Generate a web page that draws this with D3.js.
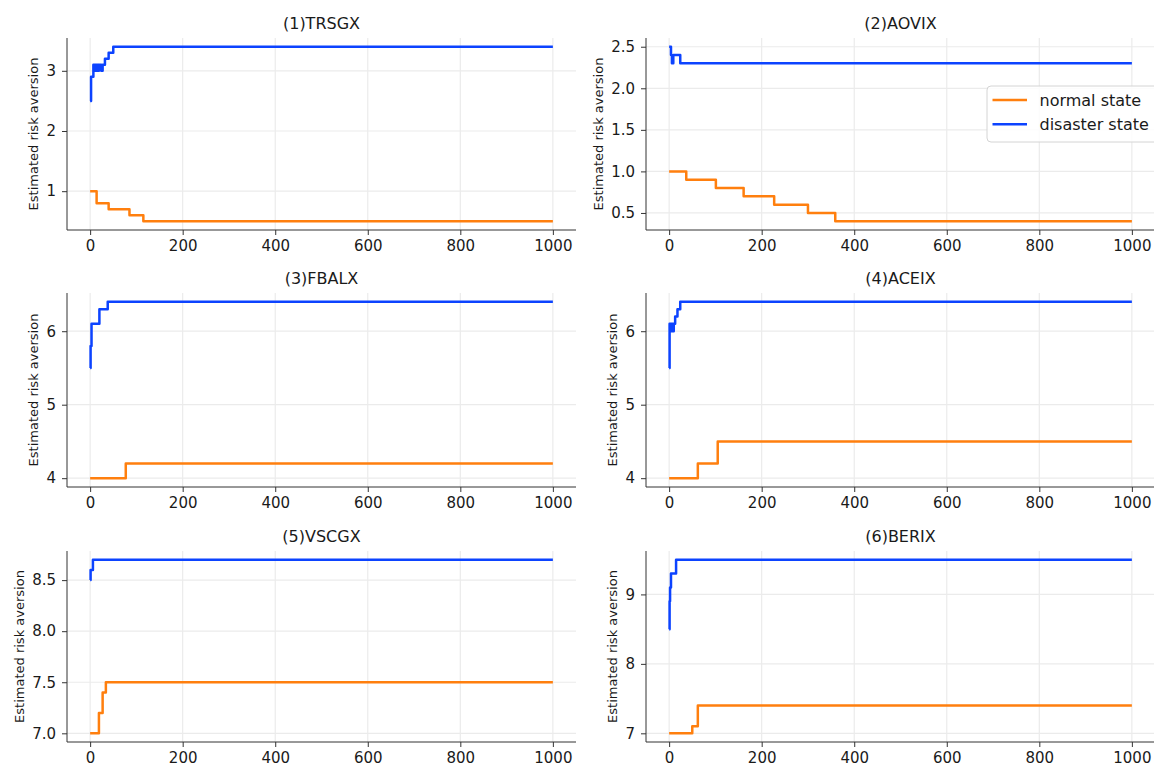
<!DOCTYPE html>
<html>
<head>
<meta charset="utf-8">
<script src="https://cdn.jsdelivr.net/npm/d3@7"></script>
<style>
  html, body { margin: 0; padding: 0; background: #fff; }
  svg { display: block; font-family: "DejaVu Sans", sans-serif; }
</style>
</head>
<body>
<svg id="chart" width="1154" height="766"></svg>
<script>
// Estimated risk aversion per iteration, stored as step change points
// (iteration where a new value starts, and that value).

// (1) TRSGX
const trsgxNormalIter   = [0, 14, 40, 85, 115];
const trsgxNormalVal    = [1.0, 0.8, 0.7, 0.6, 0.5];
const trsgxDisasterIter = [0, 2, 7, 11, 13, 17, 19, 24, 27, 32, 40, 50];
const trsgxDisasterVal  = [2.5, 2.9, 3.1, 3.0, 3.1, 3.0, 3.1, 3.0, 3.1, 3.2, 3.3, 3.4];

// (2) AOVIX
const aovixNormalIter   = [0, 37, 101, 161, 227, 300, 359];
const aovixNormalVal    = [1.0, 0.9, 0.8, 0.7, 0.6, 0.5, 0.4];
const aovixDisasterIter = [0, 4, 6, 9, 24];
const aovixDisasterVal  = [2.5, 2.4, 2.3, 2.4, 2.3];

// (3) FBALX
const fbalxNormalIter   = [0, 77];
const fbalxNormalVal    = [4.0, 4.2];
const fbalxDisasterIter = [0, 1, 3, 20, 38];
const fbalxDisasterVal  = [5.5, 5.8, 6.1, 6.3, 6.4];

// (4) ACEIX
const aceixNormalIter   = [0, 62, 105];
const aceixNormalVal    = [4.0, 4.2, 4.5];
const aceixDisasterIter = [0, 1, 4, 6, 8, 10, 13, 18, 24];
const aceixDisasterVal  = [5.5, 6.1, 6.0, 6.1, 6.0, 6.1, 6.2, 6.3, 6.4];

// (5) VSCGX
const vscgxNormalIter   = [0, 19, 27, 34];
const vscgxNormalVal    = [7.0, 7.2, 7.4, 7.5];
const vscgxDisasterIter = [0, 1, 6];
const vscgxDisasterVal  = [8.5, 8.6, 8.7];

// (6) BERIX
const berixNormalIter   = [0, 50, 62];
const berixNormalVal    = [7.0, 7.1, 7.4];
const berixDisasterIter = [0, 1, 2, 4, 15];
const berixDisasterVal  = [8.5, 8.9, 9.1, 9.3, 9.5];

const lastIteration = 1000;
const xTicks = [0, 200, 400, 600, 800, 1000];

const titles = ["(1)TRSGX", "(2)AOVIX", "(3)FBALX", "(4)ACEIX", "(5)VSCGX", "(6)BERIX"];
const yTicks = [
  [1, 2, 3],
  [0.5, 1.0, 1.5, 2.0, 2.5],
  [4, 5, 6],
  [4, 5, 6],
  [7.0, 7.5, 8.0, 8.5],
  [7, 8, 9]
];
const yFormats = ["d", ".1f", "d", "d", ".1f", "d"];
const seriesNames = ["normal state", "disaster state"];

const panels = [
  [trsgxNormalIter, trsgxNormalVal, trsgxDisasterIter, trsgxDisasterVal],
  [aovixNormalIter, aovixNormalVal, aovixDisasterIter, aovixDisasterVal],
  [fbalxNormalIter, fbalxNormalVal, fbalxDisasterIter, fbalxDisasterVal],
  [aceixNormalIter, aceixNormalVal, aceixDisasterIter, aceixDisasterVal],
  [vscgxNormalIter, vscgxNormalVal, vscgxDisasterIter, vscgxDisasterVal],
  [berixNormalIter, berixNormalVal, berixDisasterIter, berixDisasterVal]
];

// Layout
const colX = [[67, 576], [646, 1155]];
const rowY = [[38, 230], [293, 487], [551, 742]];
const colors = ["#ff7f0e", "#0c43ff"];

const svg = d3.select("#chart");

function toPoints(iters, vals) {
  const pts = iters.map((t, i) => [t, vals[i]]);
  pts.push([lastIteration, vals[vals.length - 1]]);
  return pts;
}

panels.forEach((p, idx) => {
  const col = idx % 2, row = Math.floor(idx / 2);
  const [x0, x1] = colX[col];
  const [y0, y1] = rowY[row];

  const series = [toPoints(p[0], p[1]), toPoints(p[2], p[3])];
  const allVals = p[1].concat(p[3]);
  const vmin = d3.min(allVals), vmax = d3.max(allVals);
  const pad = (vmax - vmin) * 0.05;

  const x = d3.scaleLinear().domain([-50, 1050]).range([x0, x1]);
  const y = d3.scaleLinear().domain([vmin - pad, vmax + pad]).range([y1, y0]);

  const g = svg.append("g");

  // grid
  g.append("g").selectAll("line").data(xTicks).join("line")
    .attr("x1", d => x(d)).attr("x2", d => x(d))
    .attr("y1", y0).attr("y2", y1)
    .attr("stroke", "#ebebeb").attr("stroke-width", 1.2);
  g.append("g").selectAll("line").data(yTicks[idx]).join("line")
    .attr("x1", x0).attr("x2", x1)
    .attr("y1", d => y(d)).attr("y2", d => y(d))
    .attr("stroke", "#ebebeb").attr("stroke-width", 1.2);

  // axes
  const gx = g.append("g").attr("transform", `translate(0,${y1})`)
    .call(d3.axisBottom(x).tickValues(xTicks).tickFormat(d3.format("d"))
      .tickSize(5).tickPadding(5).tickSizeOuter(0));
  const gy = g.append("g").attr("transform", `translate(${x0},0)`)
    .call(d3.axisLeft(y).tickValues(yTicks[idx]).tickFormat(d3.format(yFormats[idx]))
      .tickSize(5).tickPadding(6).tickSizeOuter(0));
  [gx, gy].forEach(a => {
    a.select(".domain").attr("stroke", "#333").attr("stroke-width", 1);
    a.selectAll(".tick line").attr("stroke", "#333");
    a.selectAll(".tick text").attr("fill", "#1a1a1a")
      .style("font-size", "15px").style("font-family", "DejaVu Sans, sans-serif");
  });
  // extend the spines to the frame edges
  gx.select(".domain").attr("d", `M${x0},0H${x1}`);
  gy.select(".domain").attr("d", `M0,${y1}V${y0}`);

  // y label placed left of the tick labels
  const bb = gy.node().getBBox();
  g.append("text")
    .attr("transform", `translate(${x0 + bb.x - 8},${(y0 + y1) / 2}) rotate(-90)`)
    .attr("text-anchor", "middle")
    .attr("fill", "#1a1a1a")
    .style("font-size", "13px")
    .text("Estimated risk aversion");

  // title
  g.append("text")
    .attr("x", (x0 + x1) / 2).attr("y", y0 - 9)
    .attr("text-anchor", "middle")
    .attr("fill", "#1a1a1a")
    .style("font-size", "16px")
    .text(titles[idx]);

  // lines
  const line = d3.line().x(d => x(d[0])).y(d => y(d[1])).curve(d3.curveStepAfter);
  series.forEach((s, k) => {
    g.append("path").datum(s)
      .attr("d", line)
      .attr("fill", "none")
      .attr("stroke", colors[k])
      .attr("stroke-width", 2.5)
      .attr("stroke-linejoin", "round");
  });

  // legend in the second panel
  if (idx === 1) {
    const lx = x1 - 168, ly = y0 + 48;
    const lg = g.append("g").attr("transform", `translate(${lx},${ly})`);
    lg.append("rect")
      .attr("width", 172).attr("height", 56).attr("rx", 4)
      .attr("fill", "#fff").attr("fill-opacity", 0.85)
      .attr("stroke", "#d4d4d4").attr("stroke-width", 1);
    seriesNames.forEach((name, k) => {
      const cy = 14 + k * 24.3;
      lg.append("line")
        .attr("x1", 5.5).attr("x2", 40).attr("y1", cy).attr("y2", cy)
        .attr("stroke", colors[k]).attr("stroke-width", 2.5);
      lg.append("text")
        .attr("x", 52.5).attr("y", cy).attr("dy", "0.35em")
        .attr("fill", "#1a1a1a")
        .style("font-size", "16px")
        .text(name);
    });
  }
});
</script>
</body>
</html>
